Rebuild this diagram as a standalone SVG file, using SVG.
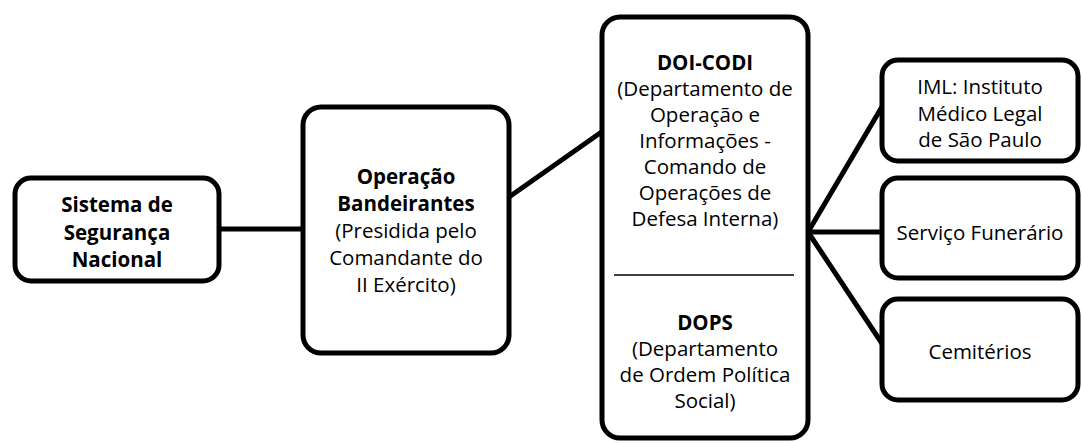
<svg xmlns="http://www.w3.org/2000/svg" width="1082" height="443" viewBox="0 0 1082 443">
<style>
.box{fill:#fff;stroke:#000;stroke-width:5}
.conn line{stroke:#000;stroke-width:5;stroke-linecap:butt}
text{font-family:"Open Sans","Noto Sans",sans-serif;font-size:20.5px;fill:#000;text-anchor:middle}
.b{font-weight:bold}
</style>
<rect width="1082" height="443" fill="#fff"/>
<g id="connectors" class="conn">
<line x1="219" y1="229" x2="303" y2="229"/>
<line x1="509" y1="197" x2="603" y2="131"/>
<line x1="808" y1="232" x2="883" y2="105"/>
<line x1="808" y1="232" x2="883" y2="232"/>
<line x1="808" y1="232" x2="883" y2="345"/>
</g>
<g id="n1">
<rect class="box" x="15" y="178" width="204" height="103" rx="16"/>
<text class="b" x="117" y="212">Sistema de</text>
<text class="b" x="117" y="240">Segurança</text>
<text class="b" x="117" y="267">Nacional</text>
</g>
<g id="n2">
<rect class="box" x="303" y="107" width="206" height="246" rx="18"/>
<text class="b" x="406" y="184">Operação</text>
<text class="b" x="406" y="211">Bandeirantes</text>
<text x="406" y="238">(Presidida pelo</text>
<text x="406" y="265">Comandante do</text>
<text x="406" y="292">II Exército)</text>
</g>
<g id="n3">
<rect class="box" x="602" y="17" width="206" height="421" rx="18"/>
<text class="b" x="705" y="70">DOI-CODI</text>
<text x="705" y="96">(Departamento de</text>
<text x="705" y="122">Operação e</text>
<text x="705" y="148">Informações -</text>
<text x="705" y="174">Comando de</text>
<text x="705" y="200">Operações de</text>
<text x="705" y="226">Defesa Interna)</text>
<line x1="614" y1="275" x2="794" y2="275" stroke="#000" stroke-width="1.5"/>
<text class="b" x="705" y="330">DOPS</text>
<text x="705" y="356">(Departamento</text>
<text x="705" y="382">de Ordem Política</text>
<text x="705" y="408">Social)</text>
</g>
<g id="n4">
<rect class="box" x="882" y="60" width="196" height="101" rx="16"/>
<text x="980" y="94">IML: Instituto</text>
<text x="980" y="121">Médico Legal</text>
<text x="980" y="147">de São Paulo</text>
</g>
<g id="n5">
<rect class="box" x="882" y="178" width="196" height="100" rx="16"/>
<text x="980" y="240">Serviço Funerário</text>
</g>
<g id="n6">
<rect class="box" x="882" y="299" width="196" height="101" rx="16"/>
<text x="980" y="359">Cemitérios</text>
</g>
</svg>
